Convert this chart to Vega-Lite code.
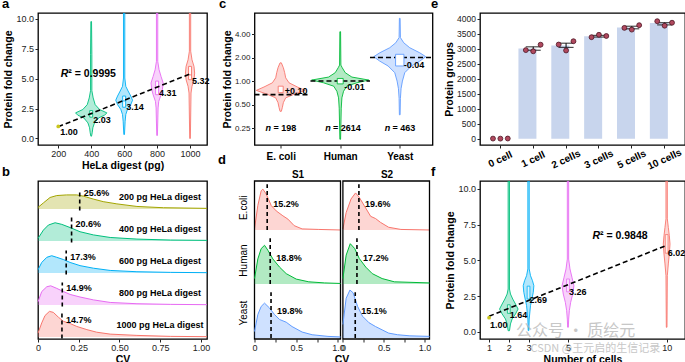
{
 "$schema": "https://vega.github.io/schema/vega-lite/v6.json",
 "padding": {"left": 1, "top": -3, "right": 0, "bottom": 0},
 "columns": 3,
 "bounds": "flush",
 "spacing": {"row": 36, "column": 47.5},
 "resolve": {"scale": {"color": "independent", "stroke": "independent"}},
 "concat": [
  {
   "width": 169, "height": 132,
   "title": {"text": "a", "dx": -36},
   "layer": [
    {"data": {"name": "a_vio"},
     "mark": {"type": "area", "orient": "horizontal", "fillOpacity": 0.3, "strokeWidth": 0.9, "clip": true},
     "encoding": {
      "y": {"field": "fc", "type": "quantitative", "scale": {"domain": [-0.55, 10.5], "nice": false, "zero": false}, "axis": {"title": "Protein fold change", "values": [0, 2.5, 5, 7.5, 10], "tickCount": 50, "format": ".1f", "labelOverlap": false}},
      "x": {"field": "lo", "type": "quantitative", "scale": {"domain": [77, 1103], "nice": false, "zero": false}, "axis": {"title": "HeLa digest (pg)", "values": [200, 400, 600, 800, 1000], "tickCount": 50, "format": "d", "labelOverlap": false}},
      "x2": {"field": "hi"},
      "color": {"field": "g", "type": "nominal", "scale": {"domain": ["200", "400", "600", "800", "1000"], "range": ["#A3A500", "#00BF7D", "#00B0F6", "#E76BF3", "#F8766D"]}, "legend": null},
      "stroke": {"field": "g", "type": "nominal", "scale": {"domain": ["200", "400", "600", "800", "1000"], "range": ["#A3A500", "#00BF7D", "#00B0F6", "#E76BF3", "#F8766D"]}, "legend": null}
     }},
    {"data": {"name": "a_box"},
     "mark": {"type": "rect", "fill": "#ffffff", "strokeWidth": 0.9},
     "encoding": {"x": {"field": "lo", "type": "quantitative"}, "x2": {"field": "hi"}, "y": {"field": "q1", "type": "quantitative"}, "y2": {"field": "q3"}, "stroke": {"field": "g", "type": "nominal", "legend": null}}},
    {"data": {"name": "a_box"},
     "mark": {"type": "rule", "strokeWidth": 0.9},
     "encoding": {"x": {"field": "lo", "type": "quantitative"}, "x2": {"field": "hi"}, "y": {"field": "med", "type": "quantitative"}, "stroke": {"field": "g", "type": "nominal", "legend": null}}},
    {"data": {"name": "a_fit"},
     "mark": {"type": "line", "color": "#000000", "strokeDash": [5, 3], "strokeWidth": 1.6},
     "encoding": {"x": {"field": "pg", "type": "quantitative"}, "y": {"field": "fc", "type": "quantitative"}}},
    {"data": {"name": "a_lab"}, "transform": [{"filter": "datum.g == '200'"}],
     "mark": {"type": "point", "filled": true, "color": "#C9C51E", "size": 14, "opacity": 1},
     "encoding": {"x": {"field": "pg", "type": "quantitative"}, "y": {"field": "v", "type": "quantitative"}}},
    {"data": {"name": "a_lab"},
     "mark": {"type": "text", "align": "left", "baseline": "middle", "dx": 2, "dy": 6},
     "encoding": {"x": {"field": "pg", "type": "quantitative"}, "y": {"field": "v", "type": "quantitative"}, "text": {"field": "lab"}}},
    {"data": {"name": "one"},
     "mark": {"type": "text", "align": "left", "baseline": "middle", "fontSize": 10.5, "fontStyle": "italic"},
     "encoding": {"x": {"datum": 215}, "y": {"datum": 5.42}, "text": {"value": "R"}}},
    {"data": {"name": "one"},
     "mark": {"type": "text", "align": "left", "baseline": "middle", "fontSize": 10.5, "dx": 7.6},
     "encoding": {"x": {"datum": 215}, "y": {"datum": 5.42}, "text": {"value": "² = 0.9995"}}}
   ]
  },
  {
   "width": 178, "height": 132,
   "title": {"text": "c", "dx": -35.5},
   "layer": [
    {"data": {"name": "c_vio"},
     "mark": {"type": "area", "orient": "horizontal", "fillOpacity": 0.3, "strokeWidth": 0.9, "clip": true},
     "encoding": {
      "y": {"field": "fc", "type": "quantitative", "scale": {"type": "log", "base": 2, "domain": [0.152, 7.43], "nice": false}, "axis": {"title": "Protein fold change", "values": [0.25, 0.5, 1, 2, 4], "tickCount": 50, "format": ".2f", "labelFontSize": 8, "labelOverlap": false}},
      "x": {"field": "lo", "type": "quantitative", "scale": {"domain": [0.56, 3.55], "nice": false, "zero": false}, "axis": {"title": null, "values": [1, 2, 3], "tickCount": 50, "labelExpr": "datum.value == 1 ? 'E. coli' : datum.value == 2 ? 'Human' : 'Yeast'", "labelFontWeight": "bold", "labelFontSize": 10, "labelColor": "#000", "labelPadding": 3, "labelOverlap": false}},
      "x2": {"field": "hi"},
      "color": {"field": "sp", "type": "nominal", "scale": {"domain": ["E. coli", "Human", "Yeast"], "range": ["#F8766D", "#00BA38", "#619CFF"]}, "legend": null},
      "stroke": {"field": "sp", "type": "nominal", "scale": {"domain": ["E. coli", "Human", "Yeast"], "range": ["#F8766D", "#00BA38", "#619CFF"]}, "legend": null}
     }},
    {"data": {"name": "c_exp"},
     "mark": {"type": "rule", "color": "#000000", "strokeDash": [5, 3], "strokeWidth": 1.6},
     "encoding": {"x": {"field": "lo", "type": "quantitative"}, "x2": {"field": "hi"}, "y": {"field": "v", "type": "quantitative"}}},
    {"data": {"name": "c_box"},
     "mark": {"type": "rect", "fill": "#ffffff", "strokeWidth": 0.9},
     "encoding": {"x": {"field": "lo", "type": "quantitative"}, "x2": {"field": "hi"}, "y": {"field": "q1", "type": "quantitative"}, "y2": {"field": "q3"}, "stroke": {"field": "sp", "type": "nominal", "legend": null}}},
    {"data": {"name": "c_box"},
     "mark": {"type": "text", "align": "left", "baseline": "middle", "dx": 4, "dy": 2},
     "encoding": {"x": {"field": "c", "type": "quantitative"}, "y": {"field": "med", "type": "quantitative"}, "text": {"field": "lab"}}},
    {"data": {"name": "c_box"},
     "mark": {"type": "text", "align": "right", "baseline": "middle", "fontStyle": "italic", "dx": -9.6},
     "encoding": {"x": {"field": "c", "type": "quantitative"}, "y": {"datum": 0.25}, "text": {"value": "n"}}},
    {"data": {"name": "c_box"},
     "mark": {"type": "text", "align": "left", "baseline": "middle", "dx": -7.2},
     "encoding": {"x": {"field": "c", "type": "quantitative"}, "y": {"datum": 0.25}, "text": {"field": "n"}}}
   ]
  },
  {
   "width": 205, "height": 132,
   "title": {"text": "e", "dx": -49},
   "layer": [
    {"data": {"name": "e_bar"},
     "mark": {"type": "bar", "color": "#c8d5ed"},
     "encoding": {
      "x": {"field": "cell", "type": "nominal", "scale": {"domain": ["0 cell", "1 cell", "2 cells", "3 cells", "5 cells", "10 cells"], "paddingInner": 0.1, "paddingOuter": 0.17}, "axis": {"title": null, "labelAngle": -25, "labelAlign": "center", "labelBaseline": "middle", "labelPadding": 11, "labelFontWeight": "bold", "labelFontSize": 10, "labelColor": "#000", "labelOverlap": false}},
      "y": {"field": "m", "type": "quantitative", "scale": {"domain": [-210, 4186], "nice": false, "zero": false}, "axis": {"title": "Protein groups", "values": [0, 500, 1000, 1500, 2000, 2500, 3000, 3500, 4000], "tickCount": 50, "format": "d", "labelFontSize": 8.5, "labelOverlap": false}}
     }},
    {"data": {"name": "e_bar"},
     "mark": {"type": "rule", "color": "#000000", "strokeWidth": 1},
     "encoding": {"x": {"field": "cell", "type": "nominal"}, "y": {"field": "lo", "type": "quantitative"}, "y2": {"field": "hi"}}},
    {"data": {"name": "e_bar"},
     "mark": {"type": "tick", "color": "#000000", "size": 15, "thickness": 1.2},
     "encoding": {"x": {"field": "cell", "type": "nominal"}, "y": {"field": "lo", "type": "quantitative"}}},
    {"data": {"name": "e_bar"},
     "mark": {"type": "tick", "color": "#000000", "size": 15, "thickness": 1.2},
     "encoding": {"x": {"field": "cell", "type": "nominal"}, "y": {"field": "hi", "type": "quantitative"}}},
    {"data": {"name": "e_dot"},
     "mark": {"type": "point", "filled": true, "fill": "#b0495e", "stroke": "#4d1322", "strokeWidth": 0.8, "size": 24, "opacity": 1},
     "encoding": {"x": {"field": "cell", "type": "nominal"}, "xOffset": {"field": "rep", "type": "nominal", "scale": {"paddingOuter": 1, "paddingInner": 0}}, "y": {"field": "v", "type": "quantitative"}}}
   ]
  },
  {
   "width": 169, "height": 158,
   "title": {"text": "b", "dx": -36},
   "resolve": {"scale": {"y": "independent"}},
   "layer": [
    {"layer": [
     {"data": {"name": "b_dens"}, "transform": [{"filter": "datum.g == '200'"}],
      "mark": {"type": "area", "color": "#A3A500", "fillOpacity": 0.3, "line": {"color": "#A3A500", "strokeWidth": 1}},
      "encoding": {"x": {"field": "cv", "type": "quantitative", "scale": {"domain": [0, 1.037], "nice": false, "zero": false}, "axis": {"title": "CV", "values": [0, 0.25, 0.5, 0.75, 1], "tickCount": 50, "labelExpr": "datum.value == 0 ? '0' : format(datum.value, '.2f')", "labelOverlap": false}}, "y": {"field": "d", "type": "quantitative", "scale": {"domain": [-4.0625, 0.875], "nice": false, "zero": false}, "axis": null}}},
     {"data": {"name": "b_med"}, "transform": [{"filter": "datum.g == '200'"}],
      "mark": {"type": "rule", "color": "#000000", "strokeDash": [4, 3], "strokeWidth": 1.6},
      "encoding": {"x": {"field": "med", "type": "quantitative"}, "y": {"datum": -0.05, "axis": null}, "y2": {"datum": 0.6}}},
     {"data": {"name": "b_med"}, "transform": [{"filter": "datum.g == '200'"}],
      "mark": {"type": "text", "align": "left", "baseline": "middle", "dx": 4},
      "encoding": {"x": {"field": "med", "type": "quantitative"}, "y": {"datum": 0.5, "axis": null}, "text": {"field": "lab"}}},
     {"data": {"name": "b_med"}, "transform": [{"filter": "datum.g == '200'"}],
      "mark": {"type": "text", "align": "center", "baseline": "middle"},
      "encoding": {"x": {"datum": 0.748}, "y": {"datum": 0.37, "axis": null}, "text": {"field": "name"}}}
    ]},
    {"layer": [
     {"data": {"name": "b_dens"}, "transform": [{"filter": "datum.g == '400'"}],
      "mark": {"type": "area", "color": "#00BF7D", "fillOpacity": 0.3, "line": {"color": "#00BF7D", "strokeWidth": 1}},
      "encoding": {"x": {"field": "cv", "type": "quantitative"}, "y": {"field": "d", "type": "quantitative", "scale": {"domain": [-3.0625, 1.875], "nice": false, "zero": false}, "axis": null}}},
     {"data": {"name": "b_med"}, "transform": [{"filter": "datum.g == '400'"}],
      "mark": {"type": "rule", "color": "#000000", "strokeDash": [4, 3], "strokeWidth": 1.6},
      "encoding": {"x": {"field": "med", "type": "quantitative"}, "y": {"datum": -0.05, "axis": null}, "y2": {"datum": 0.75}}},
     {"data": {"name": "b_med"}, "transform": [{"filter": "datum.g == '400'"}],
      "mark": {"type": "text", "align": "left", "baseline": "middle", "dx": 4},
      "encoding": {"x": {"field": "med", "type": "quantitative"}, "y": {"datum": 0.52, "axis": null}, "text": {"field": "lab"}}},
     {"data": {"name": "b_med"}, "transform": [{"filter": "datum.g == '400'"}],
      "mark": {"type": "text", "align": "center", "baseline": "middle"},
      "encoding": {"x": {"datum": 0.748}, "y": {"datum": 0.37, "axis": null}, "text": {"field": "name"}}}
    ]},
    {"layer": [
     {"data": {"name": "b_dens"}, "transform": [{"filter": "datum.g == '600'"}],
      "mark": {"type": "area", "color": "#00B0F6", "fillOpacity": 0.3, "line": {"color": "#00B0F6", "strokeWidth": 1}},
      "encoding": {"x": {"field": "cv", "type": "quantitative"}, "y": {"field": "d", "type": "quantitative", "scale": {"domain": [-2.0625, 2.875], "nice": false, "zero": false}, "axis": null}}},
     {"data": {"name": "b_med"}, "transform": [{"filter": "datum.g == '600'"}],
      "mark": {"type": "rule", "color": "#000000", "strokeDash": [4, 3], "strokeWidth": 1.6},
      "encoding": {"x": {"field": "med", "type": "quantitative"}, "y": {"datum": -0.05, "axis": null}, "y2": {"datum": 0.7}}},
     {"data": {"name": "b_med"}, "transform": [{"filter": "datum.g == '600'"}],
      "mark": {"type": "text", "align": "left", "baseline": "middle", "dx": 4},
      "encoding": {"x": {"field": "med", "type": "quantitative"}, "y": {"datum": 0.5, "axis": null}, "text": {"field": "lab"}}},
     {"data": {"name": "b_med"}, "transform": [{"filter": "datum.g == '600'"}],
      "mark": {"type": "text", "align": "center", "baseline": "middle"},
      "encoding": {"x": {"datum": 0.748}, "y": {"datum": 0.37, "axis": null}, "text": {"field": "name"}}}
    ]},
    {"layer": [
     {"data": {"name": "b_dens"}, "transform": [{"filter": "datum.g == '800'"}],
      "mark": {"type": "area", "color": "#E76BF3", "fillOpacity": 0.3, "line": {"color": "#E76BF3", "strokeWidth": 1}},
      "encoding": {"x": {"field": "cv", "type": "quantitative"}, "y": {"field": "d", "type": "quantitative", "scale": {"domain": [-1.0625, 3.875], "nice": false, "zero": false}, "axis": null}}},
     {"data": {"name": "b_med"}, "transform": [{"filter": "datum.g == '800'"}],
      "mark": {"type": "rule", "color": "#000000", "strokeDash": [4, 3], "strokeWidth": 1.6},
      "encoding": {"x": {"field": "med", "type": "quantitative"}, "y": {"datum": -0.05, "axis": null}, "y2": {"datum": 0.7}}},
     {"data": {"name": "b_med"}, "transform": [{"filter": "datum.g == '800'"}],
      "mark": {"type": "text", "align": "left", "baseline": "middle", "dx": 4},
      "encoding": {"x": {"field": "med", "type": "quantitative"}, "y": {"datum": 0.52, "axis": null}, "text": {"field": "lab"}}},
     {"data": {"name": "b_med"}, "transform": [{"filter": "datum.g == '800'"}],
      "mark": {"type": "text", "align": "center", "baseline": "middle"},
      "encoding": {"x": {"datum": 0.748}, "y": {"datum": 0.37, "axis": null}, "text": {"field": "name"}}}
    ]},
    {"layer": [
     {"data": {"name": "b_dens"}, "transform": [{"filter": "datum.g == '1000'"}],
      "mark": {"type": "area", "color": "#F8766D", "fillOpacity": 0.3, "line": {"color": "#F8766D", "strokeWidth": 1}},
      "encoding": {"x": {"field": "cv", "type": "quantitative"}, "y": {"field": "d", "type": "quantitative", "scale": {"domain": [-0.0625, 4.875], "nice": false, "zero": false}, "axis": null}}},
     {"data": {"name": "b_med"}, "transform": [{"filter": "datum.g == '1000'"}],
      "mark": {"type": "rule", "color": "#000000", "strokeDash": [4, 3], "strokeWidth": 1.6},
      "encoding": {"x": {"field": "med", "type": "quantitative"}, "y": {"datum": -0.05, "axis": null}, "y2": {"datum": 0.75}}},
     {"data": {"name": "b_med"}, "transform": [{"filter": "datum.g == '1000'"}],
      "mark": {"type": "text", "align": "left", "baseline": "middle", "dx": 4},
      "encoding": {"x": {"field": "med", "type": "quantitative"}, "y": {"datum": 0.54, "axis": null}, "text": {"field": "lab"}}},
     {"data": {"name": "b_med"}, "transform": [{"filter": "datum.g == '1000'"}],
      "mark": {"type": "text", "align": "center", "baseline": "middle"},
      "encoding": {"x": {"datum": 0.748}, "y": {"datum": 0.36, "axis": null}, "text": {"field": "name"}}}
    ]}
   ]
  },
  {
   "width": 175, "height": 158,
   "title": {"text": "d", "dx": -36.5},
   "view": {"stroke": null},
   "resolve": {"scale": {"x": "independent", "y": "independent"}, "axis": {"x": "independent"}},
   "layer": [
    {
     "resolve": {"scale": {"y": "independent"}, "axis": {"x": "independent"}},
     "layer": [
      {"data": {"name": "d_rows"},
       "mark": {"type": "point", "opacity": 0},
       "encoding": {"y": {"field": "sp", "type": "nominal", "sort": null, "scale": {"domain": ["E.coli", "Human", "Yeast"]}, "axis": {"title": null, "labelAngle": -90, "labelAlign": "center", "labelBaseline": "bottom", "ticks": false, "tickSize": 0, "labelPadding": 6, "labelFontSize": 10, "labelColor": "#000"}}}},
      {"layer": [
       {"data": {"name": "d_dens"}, "transform": [{"filter": "datum.s == 'S1' && datum.sp == 'E.coli'"}],
        "mark": {"type": "area", "color": "#F8766D", "fillOpacity": 0.3, "line": {"color": "#F8766D", "strokeWidth": 1}},
        "encoding": {"x": {"field": "cv", "type": "quantitative", "scale": {"domain": [0, 2.096], "nice": false, "zero": false}, "axis": {"orient": "bottom", "title": "CV", "titleX": 87, "values": [0, 0.25, 0.5, 0.75, 1], "tickCount": 50, "labelExpr": "datum.value == 0 ? '0' : datum.value == 0.5 ? '0.5' : datum.value == 1 ? '1.0' : ''", "labelOverlap": false}}, "y": {"field": "d", "type": "quantitative", "scale": {"domain": [-2.0, 0.899], "nice": false, "zero": false}, "axis": null}}},
       {"data": {"name": "one"},
        "mark": {"type": "rect", "fillOpacity": 0, "stroke": "#000000", "strokeWidth": 1.3},
        "encoding": {"x": {"datum": 0}, "x2": {"datum": 1.03}, "y": {"datum": -2.0, "axis": null}, "y2": {"datum": 0.899}}},
       {"data": {"name": "d_med"}, "transform": [{"filter": "datum.s == 'S1' && datum.sp == 'E.coli'"}],
        "mark": {"type": "rule", "color": "#000000", "strokeDash": [4, 3], "strokeWidth": 1.6},
        "encoding": {"x": {"field": "med", "type": "quantitative"}, "y": {"datum": 0, "axis": null}, "y2": {"datum": 0.84}}},
       {"data": {"name": "d_med"}, "transform": [{"filter": "datum.s == 'S1' && datum.sp == 'E.coli'"}],
        "mark": {"type": "text", "align": "left", "baseline": "middle", "dx": 6},
        "encoding": {"x": {"field": "med", "type": "quantitative"}, "y": {"datum": 0.47, "axis": null}, "text": {"field": "lab"}}}
      ]},
      {"layer": [
       {"data": {"name": "d_dens"}, "transform": [{"filter": "datum.s == 'S1' && datum.sp == 'Human'"}],
        "mark": {"type": "area", "color": "#00BA38", "fillOpacity": 0.3, "line": {"color": "#00BA38", "strokeWidth": 1}},
        "encoding": {"x": {"field": "cv", "type": "quantitative", "axis": {"orient": "top", "title": "S1", "titleX": 43, "labels": false, "ticks": false, "domain": false, "titleFontSize": 10, "titlePadding": 2}}, "y": {"field": "d", "type": "quantitative", "scale": {"domain": [-1.009, 1.89], "nice": false, "zero": false}, "axis": null}}},
       {"data": {"name": "d_med"}, "transform": [{"filter": "datum.s == 'S1' && datum.sp == 'Human'"}],
        "mark": {"type": "rule", "color": "#000000", "strokeDash": [4, 3], "strokeWidth": 1.6},
        "encoding": {"x": {"field": "med", "type": "quantitative"}, "y": {"datum": 0, "axis": null}, "y2": {"datum": 0.84}}},
       {"data": {"name": "d_med"}, "transform": [{"filter": "datum.s == 'S1' && datum.sp == 'Human'"}],
        "mark": {"type": "text", "align": "left", "baseline": "middle", "dx": 6},
        "encoding": {"x": {"field": "med", "type": "quantitative"}, "y": {"datum": 0.47, "axis": null}, "text": {"field": "lab"}}}
      ]},
      {"layer": [
       {"data": {"name": "d_dens"}, "transform": [{"filter": "datum.s == 'S1' && datum.sp == 'Yeast'"}],
        "mark": {"type": "area", "color": "#619CFF", "fillOpacity": 0.3, "line": {"color": "#619CFF", "strokeWidth": 1}},
        "encoding": {"x": {"field": "cv", "type": "quantitative", "axis": {"orient": "bottom", "title": null, "labels": false, "ticks": false, "domain": false}}, "y": {"field": "d", "type": "quantitative", "scale": {"domain": [-0.018, 2.881], "nice": false, "zero": false}, "axis": null}}},
       {"data": {"name": "d_med"}, "transform": [{"filter": "datum.s == 'S1' && datum.sp == 'Yeast'"}],
        "mark": {"type": "rule", "color": "#000000", "strokeDash": [4, 3], "strokeWidth": 1.6},
        "encoding": {"x": {"field": "med", "type": "quantitative"}, "y": {"datum": 0, "axis": null}, "y2": {"datum": 0.84}}},
       {"data": {"name": "d_med"}, "transform": [{"filter": "datum.s == 'S1' && datum.sp == 'Yeast'"}],
        "mark": {"type": "text", "align": "left", "baseline": "middle", "dx": 6},
        "encoding": {"x": {"field": "med", "type": "quantitative"}, "y": {"datum": 0.49, "axis": null}, "text": {"field": "lab"}}}
      ]}
     ]
    },
    {
     "resolve": {"scale": {"y": "independent"}, "axis": {"x": "independent"}},
     "layer": [
      {"layer": [
       {"data": {"name": "d_dens"}, "transform": [{"filter": "datum.s == 'S2' && datum.sp == 'E.coli'"}],
        "mark": {"type": "area", "color": "#F8766D", "fillOpacity": 0.3, "line": {"color": "#F8766D", "strokeWidth": 1}},
        "encoding": {"x": {"field": "cv", "type": "quantitative", "scale": {"domain": [-1.082, 1.06], "nice": false, "zero": false}, "axis": {"orient": "bottom", "title": null, "values": [0, 0.25, 0.5, 0.75, 1], "tickCount": 50, "labelExpr": "datum.value == 0 ? '0' : datum.value == 0.5 ? '0.5' : datum.value == 1 ? '1.0' : ''", "labelOverlap": false}}, "y": {"field": "d", "type": "quantitative", "scale": {"domain": [-2.0, 0.899], "nice": false, "zero": false}, "axis": null}}},
       {"data": {"name": "one"},
        "mark": {"type": "rect", "fillOpacity": 0, "stroke": "#000000", "strokeWidth": 1.3},
        "encoding": {"x": {"datum": 0}, "x2": {"datum": 1.06}, "y": {"datum": -2.0, "axis": null}, "y2": {"datum": 0.899}}},
       {"data": {"name": "d_med"}, "transform": [{"filter": "datum.s == 'S2' && datum.sp == 'E.coli'"}],
        "mark": {"type": "rule", "color": "#000000", "strokeDash": [4, 3], "strokeWidth": 1.6},
        "encoding": {"x": {"field": "med", "type": "quantitative"}, "y": {"datum": 0, "axis": null}, "y2": {"datum": 0.84}}},
       {"data": {"name": "d_med"}, "transform": [{"filter": "datum.s == 'S2' && datum.sp == 'E.coli'"}],
        "mark": {"type": "text", "align": "left", "baseline": "middle", "dx": 6},
        "encoding": {"x": {"field": "med", "type": "quantitative"}, "y": {"datum": 0.47, "axis": null}, "text": {"field": "lab"}}}
      ]},
      {"layer": [
       {"data": {"name": "d_dens"}, "transform": [{"filter": "datum.s == 'S2' && datum.sp == 'Human'"}],
        "mark": {"type": "area", "color": "#00BA38", "fillOpacity": 0.3, "line": {"color": "#00BA38", "strokeWidth": 1}},
        "encoding": {"x": {"field": "cv", "type": "quantitative", "axis": {"orient": "top", "title": "S2", "titleX": 132, "labels": false, "ticks": false, "domain": false, "titleFontSize": 10, "titlePadding": 2}}, "y": {"field": "d", "type": "quantitative", "scale": {"domain": [-1.009, 1.89], "nice": false, "zero": false}, "axis": null}}},
       {"data": {"name": "d_med"}, "transform": [{"filter": "datum.s == 'S2' && datum.sp == 'Human'"}],
        "mark": {"type": "rule", "color": "#000000", "strokeDash": [4, 3], "strokeWidth": 1.6},
        "encoding": {"x": {"field": "med", "type": "quantitative"}, "y": {"datum": 0, "axis": null}, "y2": {"datum": 0.84}}},
       {"data": {"name": "d_med"}, "transform": [{"filter": "datum.s == 'S2' && datum.sp == 'Human'"}],
        "mark": {"type": "text", "align": "left", "baseline": "middle", "dx": 6},
        "encoding": {"x": {"field": "med", "type": "quantitative"}, "y": {"datum": 0.47, "axis": null}, "text": {"field": "lab"}}}
      ]},
      {"layer": [
       {"data": {"name": "d_dens"}, "transform": [{"filter": "datum.s == 'S2' && datum.sp == 'Yeast'"}],
        "mark": {"type": "area", "color": "#619CFF", "fillOpacity": 0.3, "line": {"color": "#619CFF", "strokeWidth": 1}},
        "encoding": {"x": {"field": "cv", "type": "quantitative", "axis": {"orient": "bottom", "title": null, "labels": false, "ticks": false, "domain": false}}, "y": {"field": "d", "type": "quantitative", "scale": {"domain": [-0.018, 2.881], "nice": false, "zero": false}, "axis": null}}},
       {"data": {"name": "d_med"}, "transform": [{"filter": "datum.s == 'S2' && datum.sp == 'Yeast'"}],
        "mark": {"type": "rule", "color": "#000000", "strokeDash": [4, 3], "strokeWidth": 1.6},
        "encoding": {"x": {"field": "med", "type": "quantitative"}, "y": {"datum": 0, "axis": null}, "y2": {"datum": 0.84}}},
       {"data": {"name": "d_med"}, "transform": [{"filter": "datum.s == 'S2' && datum.sp == 'Yeast'"}],
        "mark": {"type": "text", "align": "left", "baseline": "middle", "dx": 6},
        "encoding": {"x": {"field": "med", "type": "quantitative"}, "y": {"datum": 0.49, "axis": null}, "text": {"field": "lab"}}}
      ]}
     ]
    }
   ]
  },
  {
   "width": 205, "height": 158,
   "title": {"text": "f", "dx": -49},
   "layer": [
    {"data": {"name": "f_vio"},
     "mark": {"type": "area", "orient": "horizontal", "fillOpacity": 0.3, "strokeWidth": 0.9, "clip": true},
     "encoding": {
      "y": {"field": "fc", "type": "quantitative", "scale": {"domain": [-0.49, 10.54], "nice": false, "zero": false}, "axis": {"title": "Protein fold change", "values": [0, 2.5, 5, 7.5, 10], "tickCount": 50, "format": ".1f", "labelOverlap": false}},
      "x": {"field": "lo", "type": "quantitative", "scale": {"domain": [0.54, 10.93], "nice": false, "zero": false}, "axis": {"title": "Number of cells", "values": [1, 2, 3, 5, 10], "tickCount": 50, "format": "d", "labelOverlap": false}},
      "x2": {"field": "hi"},
      "color": {"field": "g", "type": "nominal", "scale": {"domain": ["1", "2", "3", "5", "10"], "range": ["#A3A500", "#00BF7D", "#00B0F6", "#E76BF3", "#F8766D"]}, "legend": null},
      "stroke": {"field": "g", "type": "nominal", "scale": {"domain": ["1", "2", "3", "5", "10"], "range": ["#A3A500", "#00BF7D", "#00B0F6", "#E76BF3", "#F8766D"]}, "legend": null}
     }},
    {"data": {"name": "f_box"},
     "mark": {"type": "rect", "fill": "#ffffff", "fillOpacity": 0.6, "strokeWidth": 0.8},
     "encoding": {"x": {"field": "lo", "type": "quantitative"}, "x2": {"field": "hi"}, "y": {"field": "q1", "type": "quantitative"}, "y2": {"field": "q3"}, "stroke": {"field": "g", "type": "nominal", "legend": null}}},
    {"data": {"name": "f_fit"},
     "mark": {"type": "line", "color": "#000000", "strokeDash": [5, 3], "strokeWidth": 1.6},
     "encoding": {"x": {"field": "n", "type": "quantitative"}, "y": {"field": "fc", "type": "quantitative"}}},
    {"data": {"name": "f_lab"}, "transform": [{"filter": "datum.n == 1"}],
     "mark": {"type": "point", "filled": true, "color": "#C9C51E", "size": 14, "opacity": 1},
     "encoding": {"x": {"field": "n", "type": "quantitative"}, "y": {"field": "v", "type": "quantitative"}}},
    {"data": {"name": "f_lab"},
     "mark": {"type": "text", "align": "left", "baseline": "middle", "dx": 1, "dy": 7},
     "encoding": {"x": {"field": "n", "type": "quantitative"}, "y": {"field": "v", "type": "quantitative"}, "text": {"field": "lab"}}},
    {"data": {"name": "one"},
     "mark": {"type": "text", "align": "left", "baseline": "middle", "fontSize": 10.5, "fontStyle": "italic"},
     "encoding": {"x": {"datum": 6.24}, "y": {"datum": 6.68}, "text": {"value": "R"}}},
    {"data": {"name": "one"},
     "mark": {"type": "text", "align": "left", "baseline": "middle", "fontSize": 10.5, "dx": 7.6},
     "encoding": {"x": {"datum": 6.24}, "y": {"datum": 6.68}, "text": {"value": "² = 0.9848"}}},
    {"data": {"name": "one"},
     "mark": {"type": "text", "align": "left", "baseline": "middle", "font": "Noto Sans CJK SC", "fontWeight": "normal", "fontSize": 16, "color": "#b0b0b0", "opacity": 0.7},
     "encoding": {"x": {"datum": 2.37}, "y": {"datum": 0.1}, "text": {"value": "公众号 · 质绘元"}}},
    {"data": {"name": "one"},
     "mark": {"type": "text", "align": "left", "baseline": "middle", "font": "Noto Sans CJK SC", "fontWeight": "normal", "fontSize": 11, "color": "#b0b0b0", "opacity": 0.7},
     "encoding": {"x": {"datum": 3.1}, "y": {"datum": -1.2}, "text": {"value": "CSDN @王元启的生信记录"}}}
   ]
  }
 ],
 "datasets": {
  "one": [{"k": 1}],
  "a_vio": [
   {"g": "400", "fc": 9.78, "lo": 398, "hi": 402}, {"g": "400", "fc": 7.0, "lo": 396, "hi": 404}, {"g": "400", "fc": 4.0, "lo": 396, "hi": 404}, {"g": "400", "fc": 3.39, "lo": 388, "hi": 412}, {"g": "400", "fc": 2.83, "lo": 376, "hi": 424}, {"g": "400", "fc": 2.42, "lo": 349, "hi": 451}, {"g": "400", "fc": 2.14, "lo": 305, "hi": 495}, {"g": "400", "fc": 1.94, "lo": 319, "hi": 481}, {"g": "400", "fc": 1.72, "lo": 355, "hi": 445}, {"g": "400", "fc": 1.3, "lo": 380, "hi": 420}, {"g": "400", "fc": 0.89, "lo": 390, "hi": 410}, {"g": "400", "fc": 0.47, "lo": 394, "hi": 406}, {"g": "400", "fc": 0.19, "lo": 398, "hi": 402},
   {"g": "600", "fc": 10.5, "lo": 596, "hi": 604}, {"g": "600", "fc": 5.06, "lo": 596, "hi": 604}, {"g": "600", "fc": 4.36, "lo": 590, "hi": 610}, {"g": "600", "fc": 3.97, "lo": 576, "hi": 624}, {"g": "600", "fc": 3.55, "lo": 560, "hi": 640}, {"g": "600", "fc": 3.2, "lo": 549, "hi": 651}, {"g": "600", "fc": 2.83, "lo": 560, "hi": 640}, {"g": "600", "fc": 2.42, "lo": 580, "hi": 620}, {"g": "600", "fc": 2.0, "lo": 590, "hi": 610}, {"g": "600", "fc": 1.44, "lo": 594, "hi": 606}, {"g": "600", "fc": 0.33, "lo": 598, "hi": 602},
   {"g": "800", "fc": 10.5, "lo": 796, "hi": 804}, {"g": "800", "fc": 6.45, "lo": 796, "hi": 804}, {"g": "800", "fc": 5.75, "lo": 788, "hi": 812}, {"g": "800", "fc": 5.19, "lo": 776, "hi": 824}, {"g": "800", "fc": 4.64, "lo": 763, "hi": 837}, {"g": "800", "fc": 4.08, "lo": 768, "hi": 832}, {"g": "800", "fc": 3.66, "lo": 776, "hi": 824}, {"g": "800", "fc": 3.1, "lo": 790, "hi": 810}, {"g": "800", "fc": 2.55, "lo": 794, "hi": 806}, {"g": "800", "fc": 0.25, "lo": 798, "hi": 802},
   {"g": "1000", "fc": 10.5, "lo": 996, "hi": 1004}, {"g": "1000", "fc": 7.3, "lo": 996, "hi": 1004}, {"g": "1000", "fc": 6.58, "lo": 988, "hi": 1012}, {"g": "1000", "fc": 6.03, "lo": 976, "hi": 1024}, {"g": "1000", "fc": 5.47, "lo": 972, "hi": 1028}, {"g": "1000", "fc": 4.92, "lo": 976, "hi": 1024}, {"g": "1000", "fc": 4.36, "lo": 988, "hi": 1012}, {"g": "1000", "fc": 3.8, "lo": 994, "hi": 1006}, {"g": "1000", "fc": 0.0, "lo": 998, "hi": 1002}
  ],
  "a_box": [
   {"g": "400", "lo": 391, "hi": 409, "q1": 1.78, "q3": 2.33, "med": 2.03},
   {"g": "600", "lo": 591, "hi": 609, "q1": 2.61, "q3": 3.55, "med": 3.14},
   {"g": "800", "lo": 791, "hi": 809, "q1": 3.66, "q3": 4.8, "med": 4.31},
   {"g": "1000", "lo": 991, "hi": 1009, "q1": 4.92, "q3": 6.03, "med": 5.32}
  ],
  "a_lab": [
   {"g": "200", "pg": 200, "v": 1.0, "lab": "1.00"},
   {"g": "400", "pg": 400, "v": 2.03, "lab": "2.03"},
   {"g": "600", "pg": 600, "v": 3.14, "lab": "3.14"},
   {"g": "800", "pg": 800, "v": 4.31, "lab": "4.31"},
   {"g": "1000", "pg": 1000, "v": 5.32, "lab": "5.32"}
  ],
  "a_fit": [{"pg": 200, "fc": 0.98}, {"pg": 1000, "fc": 5.4}],
  "b_dens": [
   {"g": "200", "cv": 0, "d": 0.05}, {"g": "200", "cv": 0.033, "d": 0.19}, {"g": "200", "cv": 0.074, "d": 0.36}, {"g": "200", "cv": 0.115, "d": 0.42}, {"g": "200", "cv": 0.176, "d": 0.44}, {"g": "200", "cv": 0.238, "d": 0.44}, {"g": "200", "cv": 0.279, "d": 0.4}, {"g": "200", "cv": 0.34, "d": 0.31}, {"g": "200", "cv": 0.4, "d": 0.23}, {"g": "200", "cv": 0.484, "d": 0.16}, {"g": "200", "cv": 0.607, "d": 0.08}, {"g": "200", "cv": 0.77, "d": 0.04}, {"g": "200", "cv": 1.037, "d": 0.02},
   {"g": "400", "cv": 0, "d": 0.08}, {"g": "400", "cv": 0.033, "d": 0.34}, {"g": "400", "cv": 0.064, "d": 0.5}, {"g": "400", "cv": 0.105, "d": 0.57}, {"g": "400", "cv": 0.146, "d": 0.52}, {"g": "400", "cv": 0.197, "d": 0.42}, {"g": "400", "cv": 0.258, "d": 0.29}, {"g": "400", "cv": 0.34, "d": 0.19}, {"g": "400", "cv": 0.443, "d": 0.11}, {"g": "400", "cv": 0.607, "d": 0.06}, {"g": "400", "cv": 0.812, "d": 0.03}, {"g": "400", "cv": 1.037, "d": 0.02},
   {"g": "600", "cv": 0, "d": 0.1}, {"g": "600", "cv": 0.023, "d": 0.33}, {"g": "600", "cv": 0.054, "d": 0.49}, {"g": "600", "cv": 0.084, "d": 0.54}, {"g": "600", "cv": 0.115, "d": 0.49}, {"g": "600", "cv": 0.156, "d": 0.42}, {"g": "600", "cv": 0.197, "d": 0.33}, {"g": "600", "cv": 0.258, "d": 0.23}, {"g": "600", "cv": 0.34, "d": 0.15}, {"g": "600", "cv": 0.443, "d": 0.08}, {"g": "600", "cv": 0.607, "d": 0.04}, {"g": "600", "cv": 0.812, "d": 0.02}, {"g": "600", "cv": 1.037, "d": 0.01},
   {"g": "800", "cv": 0, "d": 0.1}, {"g": "800", "cv": 0.023, "d": 0.42}, {"g": "800", "cv": 0.054, "d": 0.57}, {"g": "800", "cv": 0.078, "d": 0.6}, {"g": "800", "cv": 0.115, "d": 0.52}, {"g": "800", "cv": 0.156, "d": 0.42}, {"g": "800", "cv": 0.197, "d": 0.33}, {"g": "800", "cv": 0.258, "d": 0.25}, {"g": "800", "cv": 0.34, "d": 0.16}, {"g": "800", "cv": 0.443, "d": 0.08}, {"g": "800", "cv": 0.607, "d": 0.04}, {"g": "800", "cv": 0.812, "d": 0.02}, {"g": "800", "cv": 1.037, "d": 0.01},
   {"g": "1000", "cv": 0, "d": 0.12}, {"g": "1000", "cv": 0.023, "d": 0.44}, {"g": "1000", "cv": 0.043, "d": 0.67}, {"g": "1000", "cv": 0.07, "d": 0.8}, {"g": "1000", "cv": 0.094, "d": 0.77}, {"g": "1000", "cv": 0.125, "d": 0.62}, {"g": "1000", "cv": 0.156, "d": 0.49}, {"g": "1000", "cv": 0.197, "d": 0.42}, {"g": "1000", "cv": 0.238, "d": 0.33}, {"g": "1000", "cv": 0.3, "d": 0.23}, {"g": "1000", "cv": 0.36, "d": 0.15}, {"g": "1000", "cv": 0.443, "d": 0.09}, {"g": "1000", "cv": 0.607, "d": 0.05}, {"g": "1000", "cv": 0.812, "d": 0.02}, {"g": "1000", "cv": 1.037, "d": 0.01}
  ],
  "b_med": [
   {"g": "200", "med": 0.256, "lab": "25.6%", "name": "200 pg HeLa digest"},
   {"g": "400", "med": 0.206, "lab": "20.6%", "name": "400 pg HeLa digest"},
   {"g": "600", "med": 0.173, "lab": "17.3%", "name": "600 pg HeLa digest"},
   {"g": "800", "med": 0.149, "lab": "14.9%", "name": "800 pg HeLa digest"},
   {"g": "1000", "med": 0.147, "lab": "14.7%", "name": "1000 pg HeLa digest"}
  ],
  "c_vio": [
   {"sp": "E. coli", "fc": 1.71, "lo": 0.989, "hi": 1.011}, {"sp": "E. coli", "fc": 1.48, "lo": 0.955, "hi": 1.045}, {"sp": "E. coli", "fc": 1.28, "lo": 0.933, "hi": 1.067}, {"sp": "E. coli", "fc": 1.1, "lo": 0.916, "hi": 1.084}, {"sp": "E. coli", "fc": 0.95, "lo": 0.86, "hi": 1.14}, {"sp": "E. coli", "fc": 0.84, "lo": 0.72, "hi": 1.28}, {"sp": "E. coli", "fc": 0.76, "lo": 0.59, "hi": 1.41}, {"sp": "E. coli", "fc": 0.675, "lo": 0.78, "hi": 1.22}, {"sp": "E. coli", "fc": 0.61, "lo": 0.916, "hi": 1.084}, {"sp": "E. coli", "fc": 0.53, "lo": 0.955, "hi": 1.045}, {"sp": "E. coli", "fc": 0.46, "lo": 0.972, "hi": 1.028}, {"sp": "E. coli", "fc": 0.41, "lo": 0.989, "hi": 1.011},
   {"sp": "Human", "fc": 4.28, "lo": 1.994, "hi": 2.006}, {"sp": "Human", "fc": 1.6, "lo": 1.989, "hi": 2.011}, {"sp": "Human", "fc": 1.48, "lo": 1.966, "hi": 2.034}, {"sp": "Human", "fc": 1.28, "lo": 1.916, "hi": 2.084}, {"sp": "Human", "fc": 1.125, "lo": 1.804, "hi": 2.196}, {"sp": "Human", "fc": 1.03, "lo": 1.52, "hi": 2.48}, {"sp": "Human", "fc": 0.95, "lo": 1.72, "hi": 2.28}, {"sp": "Human", "fc": 0.86, "lo": 1.89, "hi": 2.11}, {"sp": "Human", "fc": 0.74, "lo": 1.944, "hi": 2.056}, {"sp": "Human", "fc": 0.61, "lo": 1.972, "hi": 2.028}, {"sp": "Human", "fc": 0.45, "lo": 1.983, "hi": 2.017}, {"sp": "Human", "fc": 0.18, "lo": 1.994, "hi": 2.006},
   {"sp": "Yeast", "fc": 6.35, "lo": 2.994, "hi": 3.006}, {"sp": "Yeast", "fc": 3.6, "lo": 2.989, "hi": 3.011}, {"sp": "Yeast", "fc": 3.09, "lo": 2.933, "hi": 3.067}, {"sp": "Yeast", "fc": 2.67, "lo": 2.832, "hi": 3.168}, {"sp": "Yeast", "fc": 2.3, "lo": 2.664, "hi": 3.336}, {"sp": "Yeast", "fc": 2.05, "lo": 2.563, "hi": 3.437}, {"sp": "Yeast", "fc": 1.8, "lo": 2.664, "hi": 3.336}, {"sp": "Yeast", "fc": 1.56, "lo": 2.804, "hi": 3.196}, {"sp": "Yeast", "fc": 1.28, "lo": 2.916, "hi": 3.084}, {"sp": "Yeast", "fc": 1.0, "lo": 2.955, "hi": 3.045}, {"sp": "Yeast", "fc": 0.8, "lo": 2.978, "hi": 3.022}, {"sp": "Yeast", "fc": 0.6, "lo": 2.989, "hi": 3.011}, {"sp": "Yeast", "fc": 0.37, "lo": 2.994, "hi": 3.006}
  ],
  "c_box": [
   {"sp": "E. coli", "c": 1, "lo": 0.958, "hi": 1.042, "q1": 0.71, "q3": 0.86, "med": 0.78, "lab": "+0.10", "n": "= 198"},
   {"sp": "Human", "c": 2, "lo": 1.95, "hi": 2.05, "q1": 0.92, "q3": 1.08, "med": 0.9, "lab": "-0.01", "n": "= 2614"},
   {"sp": "Yeast", "c": 3, "lo": 2.93, "hi": 3.07, "q1": 1.56, "q3": 2.2, "med": 1.7, "lab": "-0.04", "n": "= 463"}
  ],
  "c_exp": [
   {"sp": "E. coli", "lo": 0.56, "hi": 1.5, "v": 0.67},
   {"sp": "Human", "lo": 1.5, "hi": 2.5, "v": 1.0},
   {"sp": "Yeast", "lo": 2.5, "hi": 3.55, "v": 2.0}
  ],
  "d_rows": [{"sp": "E.coli"}, {"sp": "Human"}, {"sp": "Yeast"}],
  "d_dens": [
   {"s": "S1", "sp": "E.coli", "cv": 0, "d": 0.02}, {"s": "S1", "sp": "E.coli", "cv": 0.04, "d": 0.45}, {"s": "S1", "sp": "E.coli", "cv": 0.08, "d": 0.72}, {"s": "S1", "sp": "E.coli", "cv": 0.1, "d": 0.75}, {"s": "S1", "sp": "E.coli", "cv": 0.14, "d": 0.66}, {"s": "S1", "sp": "E.coli", "cv": 0.2, "d": 0.45}, {"s": "S1", "sp": "E.coli", "cv": 0.26, "d": 0.35}, {"s": "S1", "sp": "E.coli", "cv": 0.34, "d": 0.26}, {"s": "S1", "sp": "E.coli", "cv": 0.4, "d": 0.2}, {"s": "S1", "sp": "E.coli", "cv": 0.475, "d": 0.08}, {"s": "S1", "sp": "E.coli", "cv": 0.57, "d": 0.02}, {"s": "S1", "sp": "E.coli", "cv": 0.77, "d": 0.01}, {"s": "S1", "sp": "E.coli", "cv": 1.03, "d": 0.0},
   {"s": "S1", "sp": "Human", "cv": 0, "d": 0.1}, {"s": "S1", "sp": "Human", "cv": 0.04, "d": 0.46}, {"s": "S1", "sp": "Human", "cv": 0.08, "d": 0.65}, {"s": "S1", "sp": "Human", "cv": 0.12, "d": 0.71}, {"s": "S1", "sp": "Human", "cv": 0.16, "d": 0.62}, {"s": "S1", "sp": "Human", "cv": 0.22, "d": 0.46}, {"s": "S1", "sp": "Human", "cv": 0.3, "d": 0.31}, {"s": "S1", "sp": "Human", "cv": 0.38, "d": 0.19}, {"s": "S1", "sp": "Human", "cv": 0.5, "d": 0.09}, {"s": "S1", "sp": "Human", "cv": 0.65, "d": 0.04}, {"s": "S1", "sp": "Human", "cv": 0.84, "d": 0.02}, {"s": "S1", "sp": "Human", "cv": 1.03, "d": 0.01},
   {"s": "S1", "sp": "Yeast", "cv": 0, "d": 0.12}, {"s": "S1", "sp": "Yeast", "cv": 0.04, "d": 0.43}, {"s": "S1", "sp": "Yeast", "cv": 0.08, "d": 0.58}, {"s": "S1", "sp": "Yeast", "cv": 0.12, "d": 0.64}, {"s": "S1", "sp": "Yeast", "cv": 0.18, "d": 0.55}, {"s": "S1", "sp": "Yeast", "cv": 0.24, "d": 0.43}, {"s": "S1", "sp": "Yeast", "cv": 0.3, "d": 0.34}, {"s": "S1", "sp": "Yeast", "cv": 0.38, "d": 0.29}, {"s": "S1", "sp": "Yeast", "cv": 0.45, "d": 0.21}, {"s": "S1", "sp": "Yeast", "cv": 0.57, "d": 0.11}, {"s": "S1", "sp": "Yeast", "cv": 0.69, "d": 0.06}, {"s": "S1", "sp": "Yeast", "cv": 0.88, "d": 0.03}, {"s": "S1", "sp": "Yeast", "cv": 1.03, "d": 0.02},
   {"s": "S2", "sp": "E.coli", "cv": 0, "d": 0.02}, {"s": "S2", "sp": "E.coli", "cv": 0.04, "d": 0.32}, {"s": "S2", "sp": "E.coli", "cv": 0.1, "d": 0.57}, {"s": "S2", "sp": "E.coli", "cv": 0.155, "d": 0.68}, {"s": "S2", "sp": "E.coli", "cv": 0.2, "d": 0.6}, {"s": "S2", "sp": "E.coli", "cv": 0.26, "d": 0.45}, {"s": "S2", "sp": "E.coli", "cv": 0.34, "d": 0.25}, {"s": "S2", "sp": "E.coli", "cv": 0.4, "d": 0.21}, {"s": "S2", "sp": "E.coli", "cv": 0.46, "d": 0.14}, {"s": "S2", "sp": "E.coli", "cv": 0.56, "d": 0.05}, {"s": "S2", "sp": "E.coli", "cv": 0.71, "d": 0.01}, {"s": "S2", "sp": "E.coli", "cv": 1.06, "d": 0.0},
   {"s": "S2", "sp": "Human", "cv": 0, "d": 0.1}, {"s": "S2", "sp": "Human", "cv": 0.04, "d": 0.53}, {"s": "S2", "sp": "Human", "cv": 0.09, "d": 0.74}, {"s": "S2", "sp": "Human", "cv": 0.145, "d": 0.65}, {"s": "S2", "sp": "Human", "cv": 0.2, "d": 0.47}, {"s": "S2", "sp": "Human", "cv": 0.28, "d": 0.31}, {"s": "S2", "sp": "Human", "cv": 0.36, "d": 0.19}, {"s": "S2", "sp": "Human", "cv": 0.48, "d": 0.1}, {"s": "S2", "sp": "Human", "cv": 0.63, "d": 0.04}, {"s": "S2", "sp": "Human", "cv": 1.06, "d": 0.02},
   {"s": "S2", "sp": "Yeast", "cv": 0, "d": 0.25}, {"s": "S2", "sp": "Yeast", "cv": 0.04, "d": 0.73}, {"s": "S2", "sp": "Yeast", "cv": 0.086, "d": 0.88}, {"s": "S2", "sp": "Yeast", "cv": 0.125, "d": 0.83}, {"s": "S2", "sp": "Yeast", "cv": 0.18, "d": 0.58}, {"s": "S2", "sp": "Yeast", "cv": 0.24, "d": 0.4}, {"s": "S2", "sp": "Yeast", "cv": 0.32, "d": 0.28}, {"s": "S2", "sp": "Yeast", "cv": 0.4, "d": 0.21}, {"s": "S2", "sp": "Yeast", "cv": 0.48, "d": 0.15}, {"s": "S2", "sp": "Yeast", "cv": 0.56, "d": 0.09}, {"s": "S2", "sp": "Yeast", "cv": 0.67, "d": 0.06}, {"s": "S2", "sp": "Yeast", "cv": 0.82, "d": 0.04}, {"s": "S2", "sp": "Yeast", "cv": 1.06, "d": 0.03}
  ],
  "d_med": [
   {"s": "S1", "sp": "E.coli", "med": 0.152, "lab": "15.2%"},
   {"s": "S1", "sp": "Human", "med": 0.188, "lab": "18.8%"},
   {"s": "S1", "sp": "Yeast", "med": 0.198, "lab": "19.8%"},
   {"s": "S2", "sp": "E.coli", "med": 0.196, "lab": "19.6%"},
   {"s": "S2", "sp": "Human", "med": 0.172, "lab": "17.2%"},
   {"s": "S2", "sp": "Yeast", "med": 0.151, "lab": "15.1%"}
  ],
  "e_bar": [
   {"cell": "0 cell", "m": 0, "lo": null, "hi": null},
   {"cell": "1 cell", "m": 3003, "lo": 2945, "hi": 3060},
   {"cell": "2 cells", "m": 3106, "lo": 3040, "hi": 3180},
   {"cell": "3 cells", "m": 3412, "lo": 3385, "hi": 3440},
   {"cell": "5 cells", "m": 3707, "lo": 3660, "hi": 3745},
   {"cell": "10 cells", "m": 3850, "lo": 3790, "hi": 3865}
  ],
  "e_dot": [
   {"cell": "0 cell", "rep": 1, "v": 4}, {"cell": "0 cell", "rep": 2, "v": 2}, {"cell": "0 cell", "rep": 3, "v": 6},
   {"cell": "1 cell", "rep": 1, "v": 2950}, {"cell": "1 cell", "rep": 2, "v": 2910}, {"cell": "1 cell", "rep": 3, "v": 3130},
   {"cell": "2 cells", "rep": 1, "v": 3136}, {"cell": "2 cells", "rep": 2, "v": 2937}, {"cell": "2 cells", "rep": 3, "v": 3246},
   {"cell": "3 cells", "rep": 1, "v": 3380}, {"cell": "3 cells", "rep": 2, "v": 3460}, {"cell": "3 cells", "rep": 3, "v": 3420},
   {"cell": "5 cells", "rep": 1, "v": 3690}, {"cell": "5 cells", "rep": 2, "v": 3633}, {"cell": "5 cells", "rep": 3, "v": 3780},
   {"cell": "10 cells", "rep": 1, "v": 3913}, {"cell": "10 cells", "rep": 2, "v": 3763}, {"cell": "10 cells", "rep": 3, "v": 3862}
  ],
  "f_vio": [
   {"g": "2", "fc": 10.54, "lo": 1.966, "hi": 2.034}, {"g": "2", "fc": 3.0, "lo": 1.966, "hi": 2.034}, {"g": "2", "fc": 2.65, "lo": 1.915, "hi": 2.085}, {"g": "2", "fc": 2.3, "lo": 1.8, "hi": 2.2}, {"g": "2", "fc": 1.95, "lo": 1.66, "hi": 2.34}, {"g": "2", "fc": 1.6, "lo": 1.53, "hi": 2.47}, {"g": "2", "fc": 1.26, "lo": 1.66, "hi": 2.34}, {"g": "2", "fc": 0.91, "lo": 1.83, "hi": 2.17}, {"g": "2", "fc": 0.56, "lo": 1.915, "hi": 2.085}, {"g": "2", "fc": 0.09, "lo": 1.966, "hi": 2.034},
   {"g": "3", "fc": 10.54, "lo": 2.966, "hi": 3.034}, {"g": "3", "fc": 4.4, "lo": 2.966, "hi": 3.034}, {"g": "3", "fc": 3.93, "lo": 2.9, "hi": 3.1}, {"g": "3", "fc": 3.58, "lo": 2.8, "hi": 3.2}, {"g": "3", "fc": 3.23, "lo": 2.73, "hi": 3.27}, {"g": "3", "fc": 2.77, "lo": 2.76, "hi": 3.24}, {"g": "3", "fc": 2.3, "lo": 2.83, "hi": 3.17}, {"g": "3", "fc": 1.84, "lo": 2.9, "hi": 3.1}, {"g": "3", "fc": 1.4, "lo": 2.932, "hi": 3.068}, {"g": "3", "fc": 0.9, "lo": 2.966, "hi": 3.034}, {"g": "3", "fc": 0.1, "lo": 2.983, "hi": 3.017},
   {"g": "5", "fc": 10.54, "lo": 4.966, "hi": 5.034}, {"g": "5", "fc": 5.09, "lo": 4.966, "hi": 5.034}, {"g": "5", "fc": 4.4, "lo": 4.9, "hi": 5.1}, {"g": "5", "fc": 3.82, "lo": 4.8, "hi": 5.2}, {"g": "5", "fc": 3.23, "lo": 4.7, "hi": 5.3}, {"g": "5", "fc": 2.65, "lo": 4.76, "hi": 5.24}, {"g": "5", "fc": 2.07, "lo": 4.865, "hi": 5.135}, {"g": "5", "fc": 1.49, "lo": 4.932, "hi": 5.068}, {"g": "5", "fc": 0.9, "lo": 4.966, "hi": 5.034}, {"g": "5", "fc": 0.33, "lo": 4.983, "hi": 5.017},
   {"g": "10", "fc": 10.54, "lo": 9.966, "hi": 10.034}, {"g": "10", "fc": 7.9, "lo": 9.966, "hi": 10.034}, {"g": "10", "fc": 7.3, "lo": 9.915, "hi": 10.085}, {"g": "10", "fc": 6.72, "lo": 9.865, "hi": 10.135}, {"g": "10", "fc": 6.14, "lo": 9.83, "hi": 10.17}, {"g": "10", "fc": 5.44, "lo": 9.865, "hi": 10.135}, {"g": "10", "fc": 4.75, "lo": 9.915, "hi": 10.085}, {"g": "10", "fc": 3.93, "lo": 9.966, "hi": 10.034}, {"g": "10", "fc": 0.33, "lo": 9.983, "hi": 10.017}
  ],
  "f_box": [
   {"g": "2", "lo": 1.93, "hi": 2.07, "q1": 1.3, "q3": 1.9},
   {"g": "3", "lo": 2.93, "hi": 3.07, "q1": 2.3, "q3": 3.2},
   {"g": "5", "lo": 4.93, "hi": 5.07, "q1": 2.8, "q3": 3.7},
   {"g": "10", "lo": 9.93, "hi": 10.07, "q1": 5.5, "q3": 6.8}
  ],
  "f_lab": [
   {"n": 1, "v": 1.0, "lab": "1.00"},
   {"n": 2, "v": 1.64, "lab": "1.64"},
   {"n": 3, "v": 2.69, "lab": "2.69"},
   {"n": 5, "v": 3.26, "lab": "3.26"},
   {"n": 10, "v": 6.02, "lab": "6.02"}
  ],
  "f_fit": [{"n": 1, "fc": 1.1}, {"n": 10, "fc": 6.05}]
 },
 "config": {
  "font": "Liberation Sans",
  "view": {"stroke": "#000000", "strokeWidth": 1.3},
  "axis": {"grid": false, "domain": false, "labelFont": "Liberation Sans", "labelFontSize": 9, "labelColor": "#222222", "tickColor": "#222222", "tickSize": 3, "labelPadding": 1.5, "labelFlush": false, "labelOverlap": false, "titleFont": "Liberation Sans", "titleFontSize": 10.5, "titleFontWeight": "bold", "titleColor": "#000000", "titlePadding": 2},
  "axisX": {"titlePadding": 1.5},
  "title": {"font": "Liberation Sans", "fontSize": 13, "fontWeight": "bold", "anchor": "start", "frame": "group", "offset": 2, "color": "#000000"},
  "text": {"font": "Liberation Sans", "fontWeight": "bold", "fontSize": 9, "color": "#000000"}
 }
}
